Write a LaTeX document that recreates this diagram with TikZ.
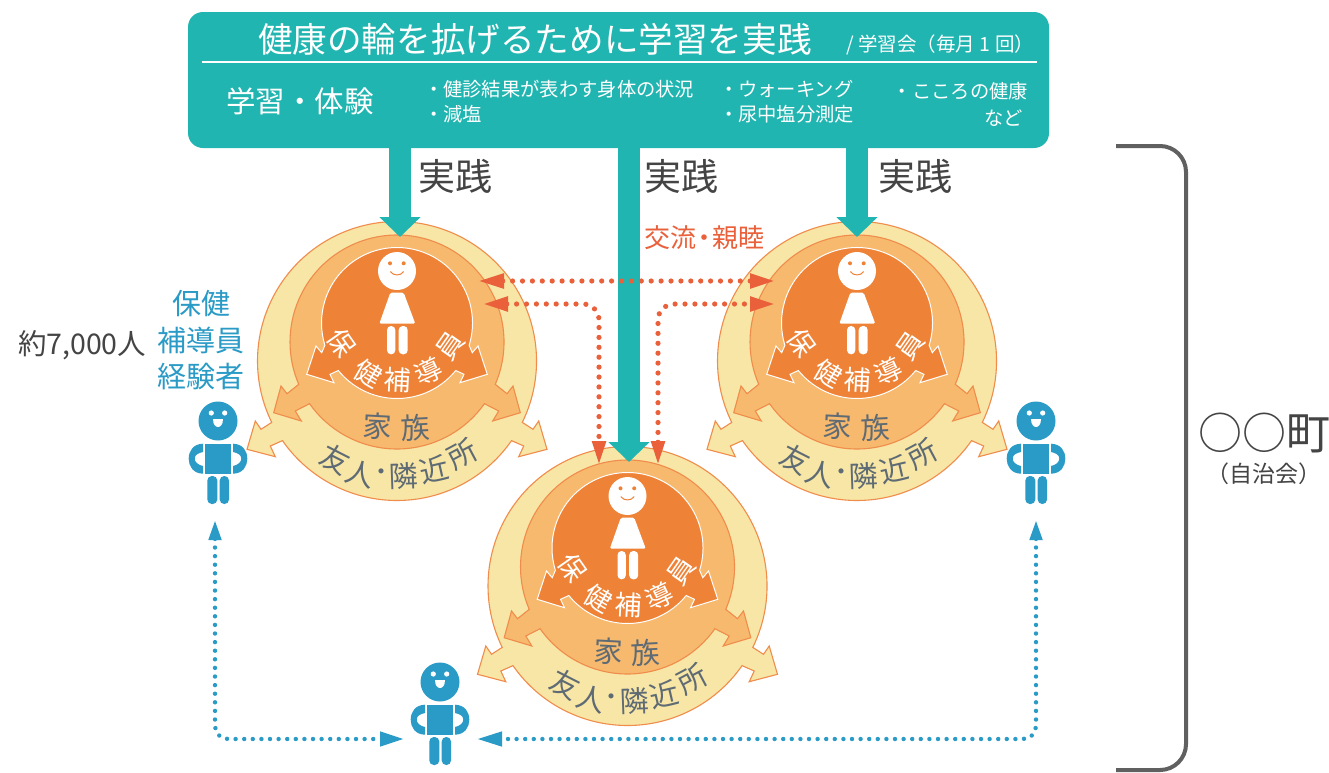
\documentclass[tikz,border=0pt]{standalone}
\usepackage{fontspec}
\setmainfont{Noto Sans CJK JP}
\usetikzlibrary{arrows.meta,calc}
\definecolor{tealbox}{HTML}{20B5B0}
\definecolor{ringY}{HTML}{F7E6A6}
\definecolor{ringM}{HTML}{F6B96E}
\definecolor{ringI}{HTML}{EE8236}
\definecolor{ringLine}{HTML}{F08C4C}
\definecolor{redline}{HTML}{E9603A}
\definecolor{bluep}{HTML}{2A9AC6}
\definecolor{grayt}{HTML}{5F6B74}
\definecolor{darkt}{HTML}{444444}
\newcommand{\fz}[1]{\fontsize{#1}{#1}\selectfont}
\tikzset{
  txt/.style={inner sep=0pt,outer sep=0pt,anchor=center},
  wt/.style={txt,text=white},
  grayl/.style={txt,text=grayt},
  practice/.style={txt,text=darkt,font=\fz{37}},
  blockarrow/.style={draw=tealbox,line width=22pt,-{Triangle[length=20pt,width=40pt]}},
  reddots/.style={draw=redline,line width=5.2pt,line cap=round,dash pattern=on 0pt off 9.9pt,rounded corners=16pt},
  bluedots/.style={draw=bluep,line width=4.4pt,line cap=round,dash pattern=on 0pt off 8.6pt,rounded corners=13pt},
}
\newcommand{\ringunit}[3]{%
\begin{scope}[shift={(#2,#3)}]
  \coordinate (#1) at (0,0);
  \filldraw[fill=ringY,draw=ringLine,line width=1.1pt]
    (-26.1:139.5) arc[start angle=-26.1,end angle=206.1,radius=139.5]
    -- (-136,-68.3) -- (-141.7,-60) -- (-150,-88.3) -- (-121.7,-95.7) -- (-126.7,-85)
    -- (214.8:139.5) arc[start angle=214.8,end angle=325.2,radius=139.5]
    -- (126.7,-85) -- (121.7,-95.7) -- (150,-88.3) -- (141.7,-60) -- (136,-68.3) -- cycle;
  \begin{scope}[shift={(0,19)}]
  \filldraw[fill=ringM,draw=ringLine,line width=1.1pt]
    (-23.3:107) arc[start angle=-23.3,end angle=203.3,radius=107]
    -- (-110,-51.7) -- (-116,-44) -- (-123.3,-70.7) -- (-95.7,-79) -- (-101.7,-69)
    -- (215.2:107) arc[start angle=215.2,end angle=324.8,radius=107]
    -- (101.7,-69) -- (95.7,-79) -- (123.3,-70.7) -- (116,-44) -- (110,-51.7) -- cycle;
  \end{scope}
  \begin{scope}[shift={(0,38)}]
  \filldraw[fill=ringI,draw=white,line width=1pt]
    (-17.2:75.5) arc[start angle=-17.2,end angle=197.2,radius=75.5]
    -- (-75.3,-29.7) -- (-81,-23) -- (-90.3,-51.3) -- (-63,-59.7) -- (-67,-51.3)
    -- (219:75.5) arc[start angle=219,end angle=321,radius=75.5]
    -- (67,-51.3) -- (63,-59.7) -- (90.3,-51.3) -- (81,-23) -- (75.3,-29.7) -- cycle;
  \end{scope}
  \fill[white] (0,90) circle[radius=19];
  \fill[ringI] (-7,97.7) circle[radius=2] (6.7,97.7) circle[radius=2];
  \draw[ringI,line width=1pt,line cap=round] (-6.5,89.3) .. controls (-4,85) and (4,85) .. (6.5,89.3);
  \fill[white,rounded corners=1.5pt] (-6.7,68.3) -- (6.7,68.3) -- (18.3,37.3) -- (-17.7,37.3) -- cycle;
  \fill[white,rounded corners=4pt] (-10,35) rectangle (-1.7,6.7);
  \fill[white,rounded corners=4pt] (1.7,35) rectangle (10.7,6.7);
  \node[wt,font=\fz{27},rotate=-55] (#1a) at (-55,18) {保};
  \node[wt,font=\fz{27},rotate=-30] (#1b) at (-29,-12) {健};
  \node[wt,font=\fz{27},rotate=-3] (#1c) at (1,-19) {補};
  \node[wt,font=\fz{27},rotate=25] (#1d) at (31.7,-10) {導};
  \node[wt,font=\fz{27},rotate=55] (#1e) at (53.3,15) {員};
  \node[grayl,font=\fz{29},rotate=-3] (#1f) at (-19.3,-65) {家};
  \node[grayl,font=\fz{29},rotate=3] (#1g) at (18.3,-66.7) {族};
  \node[grayl,font=\fz{29},rotate=-27] (#1h) at (-61.7,-98.3) {友};
  \node[grayl,font=\fz{29},rotate=-15] (#1i) at (-36.7,-113) {人};
  \node[grayl,font=\fz{24}] (#1j) at (-16,-114) {・};
  \node[grayl,font=\fz{29},rotate=2] (#1k) at (6.7,-115) {隣};
  \node[grayl,font=\fz{29},rotate=13] (#1l) at (36.7,-108) {近};
  \node[grayl,font=\fz{29},rotate=28] (#1m) at (65,-93) {所};
\end{scope}}
\newcommand{\bluefigure}[3]{%
\begin{scope}[shift={(#2,#3)}]
  \coordinate (#1) at (0,0);
  \fill[bluep] (0,0) circle[radius=19.5];
  \fill[white] (-6.7,8) circle[radius=2.6] (6.7,8) circle[radius=2.6];
  \fill[white] (-5,2) -- (5,2) .. controls (5,-4) and (2,-6) .. (0,-6) .. controls (-2,-6) and (-5,-4) .. (-5,2) -- cycle;
  \fill[bluep] (-12.7,-22.7) rectangle (13,-52.7);
  \fill[bluep,rounded corners=4.5pt] (-10.7,-55) rectangle (-0.7,-83);
  \fill[bluep,rounded corners=4.5pt] (1.7,-55) rectangle (11,-83);
  \fill[bluep] (-15,-22.7) .. controls (-25,-23) and (-29.3,-30) .. (-29.3,-37.7)
    .. controls (-29.3,-45) and (-25,-52.5) .. (-15,-52.7) -- (-15,-45)
    .. controls (-20,-44) and (-23.3,-41) .. (-23.3,-37.7)
    .. controls (-23.3,-34) and (-20,-32) .. (-15,-31) -- cycle;
  \fill[bluep] (15,-22.7) .. controls (25,-23) and (29.3,-30) .. (29.3,-37.7)
    .. controls (29.3,-45) and (25,-52.5) .. (15,-52.7) -- (15,-45)
    .. controls (20,-44) and (23.3,-41) .. (23.3,-37.7)
    .. controls (23.3,-34) and (20,-32) .. (15,-31) -- cycle;
\end{scope}}
\begin{document}
\begin{tikzpicture}[x=1pt,y=1pt]
\useasboundingbox (0,0) rectangle (1329,-772);
\fill[white] (0,0) rectangle (1329,-772);
% units
\ringunit{ua}{397}{-361}
\ringunit{ub}{857}{-361}
\ringunit{uc}{627.5}{-586}
% top box
\node[fill=tealbox,rounded corners=15pt,minimum width=861pt,minimum height=136pt,inner sep=0pt,outer sep=0pt] (box) at (618.5,-80) {};
\draw[white,line width=2pt] (202,-62) -- (1037,-62);
\node[wt,font=\fz{34.6},anchor=west] (title) at (258,-39) {健康の輪を拡げるために学習を実践};
\node[wt,font=\fz{19.5},anchor=east] (freq) at (1034,-45) {/ 学習会（毎月 1 回）};
\node[wt,font=\fz{29.5},anchor=west] (learn) at (226,-101) {学習・体験};
\node[wt,font=\fz{19.3},anchor=west] (l1) at (424,-89) {・健診結果が表わす身体の状況};
\node[wt,font=\fz{19.3},anchor=west] (l2) at (424,-114) {・減塩};
\node[wt,font=\fz{19.3},anchor=west] (l3) at (719,-89) {・ウォーキング};
\node[wt,font=\fz{19.3},anchor=west] (l4) at (719,-114) {・尿中塩分測定};
\node[wt,font=\fz{19.3},anchor=east] (l5) at (1028,-91) {・こころの健康};
\node[wt,font=\fz{19.3},anchor=east] (l6) at (1023,-118) {など};
% block arrows
\coordinate (ta) at (400,-237);
\coordinate (tb) at (857,-237);
\coordinate (tc) at (629,-462);
\draw[blockarrow] (box.south -| ta) -- (ta);
\draw[blockarrow] (box.south -| tb) -- (tb);
\draw[blockarrow] (box.south -| tc) -- (tc);
\node[practice,anchor=west] (p1) at (418,-176) {実践};
\node[practice,anchor=west] (p2) at (644,-176) {実践};
\node[practice,anchor=west] (p3) at (878,-176) {実践};
\node[txt,text=redline,font=\fz{26},anchor=west] (ex) at (644,-238) {交流\hspace{-5pt}・\hspace{-5pt}親睦};
% red connectors
\coordinate (r1l) at (478,-281);
\coordinate (r1r) at (775,-281);
\coordinate (r2l) at (483,-304);
\coordinate (r2r) at (775,-304);
\coordinate (r3l) at (599,-465);
\coordinate (r3r) at (658,-465);
\draw[reddots,{Triangle[length=26pt,width=14pt,fill=redline,color=redline]}-{Triangle[length=25pt,width=14pt,fill=redline,color=redline]}] (r1l) -- (r1r);
\draw[reddots,{Triangle[length=25pt,width=14pt,fill=redline,color=redline]}-{Triangle[length=24pt,width=13pt,fill=redline,color=redline]}] (r2l) -- (r2l -| r3l) -- (r3l);
\draw[reddots,{Triangle[length=24pt,width=13pt,fill=redline,color=redline]}-{Triangle[length=25pt,width=14pt,fill=redline,color=redline]}] (r3r) -- (r2r -| r3r) -- (r2r);
% blue figures
\bluefigure{fa}{218}{-421}
\bluefigure{fb}{1036}{-421}
\bluefigure{fc}{440}{-682}
\coordinate (b1) at (215,-520);
\coordinate (b2) at (404,-739);
\coordinate (b3) at (1036,-520);
\coordinate (b4) at (477,-739);
\draw[bluedots,{Triangle[length=20pt,width=12pt,fill=bluep,color=bluep]}-{Triangle[length=24pt,width=14pt,fill=bluep,color=bluep]}] (b1) -- (b1 |- b2) -- (b2);
\draw[bluedots,{Triangle[length=20pt,width=12pt,fill=bluep,color=bluep]}-{Triangle[length=25pt,width=14pt,fill=bluep,color=bluep]}] (b3) -- (b3 |- b4) -- (b4);
% labels left
\node[txt,text=bluep,font=\fz{29}] (h1) at (201,-304) {保健};
\node[txt,text=bluep,font=\fz{29}] (h2) at (201,-340) {補導員};
\node[txt,text=bluep,font=\fz{29}] (h3) at (201,-376) {経験者};
\node[txt,text=darkt,font=\fz{28.5},anchor=west] (num) at (18,-345) {約7,000人};
% bracket
\coordinate (bra) at (1116,-146);
\coordinate (brb) at (1116,-770);
\draw[darkt!85!white,line width=4pt,rounded corners=26pt] (bra) -- (1186,-146) -- (1186,-770) -- (brb);
\node[txt,text=darkt,font=\fz{44},anchor=west] (town) at (1198,-433) {○○町};
\node[txt,text=darkt,font=\fz{23}] (assoc) at (1264,-474) {（自治会）};
\end{tikzpicture}
\end{document}
